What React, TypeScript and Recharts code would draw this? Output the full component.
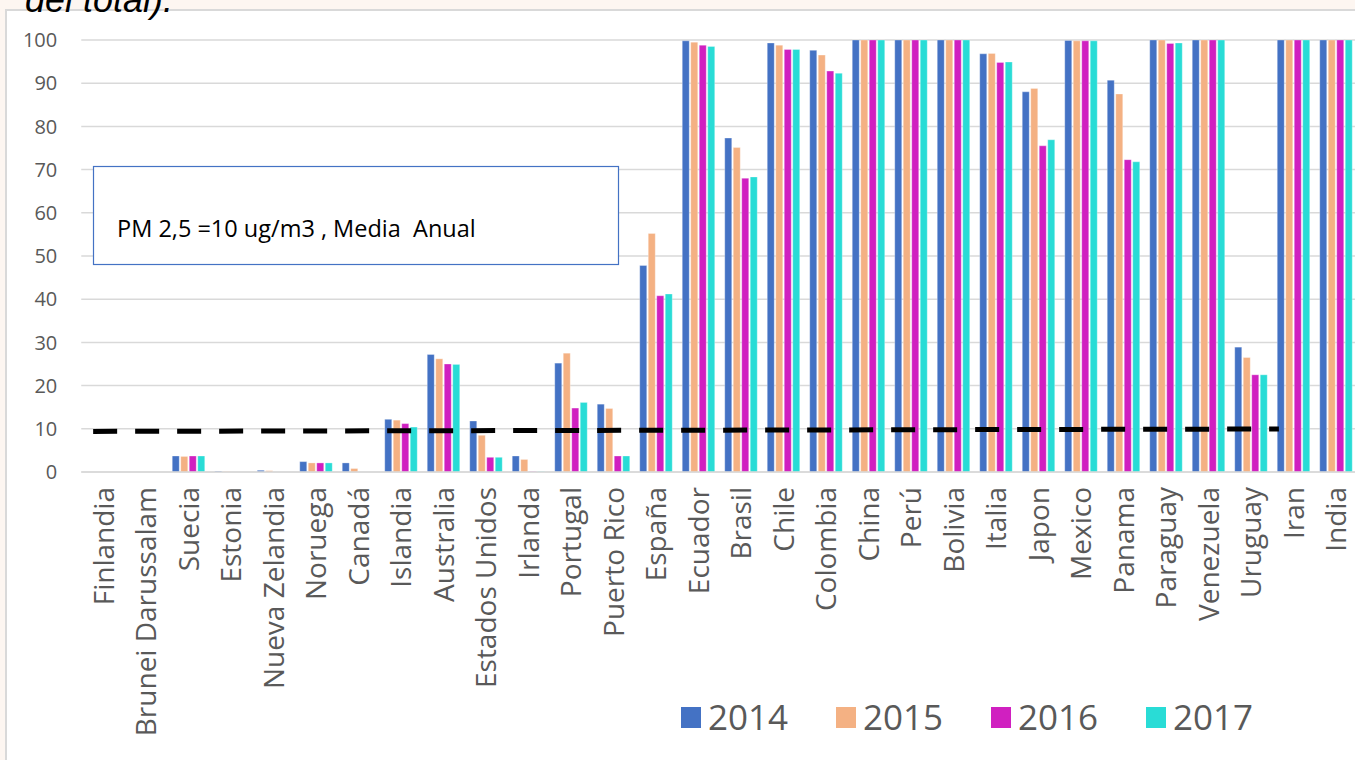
import React from 'react';
import { BarChart, Bar, XAxis, YAxis, CartesianGrid, ReferenceLine } from 'recharts';

const countries = [
  'Finlandia', 'Brunei Darussalam', 'Suecia', 'Estonia', 'Nueva Zelandia', 'Noruega', 'Canadá',
  'Islandia', 'Australia', 'Estados Unidos', 'Irlanda', 'Portugal', 'Puerto Rico', 'España',
  'Ecuador', 'Brasil', 'Chile', 'Colombia', 'China', 'Perú', 'Bolivia', 'Italia', 'Japon',
  'Mexico', 'Panama', 'Paraguay', 'Venezuela', 'Uruguay', 'Iran', 'India',
];

const v2014 = [0, 0, 3.7, 0.2, 0.4, 2.4, 2.1, 12.2, 27.2, 11.8, 3.7, 25.2, 15.7, 47.8, 99.8, 77.3, 99.3, 97.6, 100, 100, 100, 96.8, 88.0, 99.9, 90.7, 100, 100, 28.9, 100, 100];
const v2015 = [0, 0, 3.6, 0.1, 0.3, 2.1, 0.8, 12.0, 26.2, 8.5, 2.9, 27.5, 14.7, 55.2, 99.5, 75.1, 98.8, 96.5, 100, 100, 100, 96.9, 88.8, 99.8, 87.5, 100, 100, 26.5, 100, 100];
const v2016 = [0, 0, 3.7, 0, 0, 2.1, 0, 11.2, 25.0, 3.4, 0.1, 14.8, 3.7, 40.8, 98.8, 68.0, 97.8, 92.8, 100, 100, 100, 94.8, 75.5, 99.8, 72.3, 99.2, 100, 22.5, 100, 100];
const v2017 = [0, 0, 3.7, 0, 0, 2.1, 0, 10.4, 24.9, 3.4, 0.1, 16.1, 3.7, 41.2, 98.5, 68.3, 97.8, 92.3, 100, 100, 100, 94.9, 76.9, 99.8, 71.8, 99.3, 100, 22.5, 100, 100];

const years = ['2014', '2015', '2016', '2017'];
const seriesKeys = ['y2014', 'y2015', 'y2016', 'y2017'];
const colors = ['#4472C4', '#F4B183', '#D020C0', '#29DCD6'];

const yTicks = [0, 10, 20, 30, 40, 50, 60, 70, 80, 90, 100];

// limit line (PM2.5 = 10): category-index position and value at each end
const limitPos = [0.28, 28.18];
const limitVal = [9.4, 9.95];

const titleText = 'del total).';
const boxText = 'PM 2,5 =10 ug/m3 , Media  Anual';

const data = countries.map((c, i) => ({
  country: c,
  pos: i + 0.5,
  y2014: v2014[i],
  y2015: v2015[i],
  y2016: v2016[i],
  y2017: v2017[i],
}));

const FONT = '"Open Sans", "Noto Sans", sans-serif';

const XTick = (props: any) => {
  const { x, y, payload } = props;
  return (
    <text
      x={x}
      y={y}
      transform={`rotate(-90, ${x}, ${y})`}
      textAnchor="end"
      dominantBaseline="central"
      fill="#595959"
      fontSize={28}
      fontFamily={FONT}
    >
      {payload.value}
    </text>
  );
};

export default function App() {
  return (
    <div
      style={{
        position: 'fixed',
        left: 0,
        top: 0,
        width: 1355,
        height: 760,
        overflow: 'hidden',
        background: '#fdf6f1',
        fontFamily: FONT,
      }}
    >
      <div
        style={{
          position: 'absolute',
          left: 5,
          top: 9,
          width: 1400,
          height: 800,
          background: '#ffffff',
          borderLeft: '2px solid #d9d9d9',
          borderTop: '2px solid #d9d9d9',
        }}
      />
      <div style={{ position: 'absolute', left: 0, top: 0 }}>
        <BarChart
          width={1360}
          height={760}
          data={data}
          margin={{ top: 40, right: 3.75, bottom: 28, left: 0 }}
          barCategoryGap={6}
          barGap={1.5}
        >
          <CartesianGrid vertical={false} stroke="#d9d9d9" strokeWidth={1.5} />
          <XAxis
            dataKey="country"
            interval={0}
            height={260}
            tick={<XTick />}
            tickLine={false}
            tickMargin={9}
            axisLine={{ stroke: '#d9d9d9', strokeWidth: 1.5 }}
          />
          <XAxis xAxisId="lim" dataKey="pos" type="number" domain={[0, 30]} allowDataOverflow hide />
          <YAxis
            width={81.25}
            domain={[0, 100]}
            ticks={yTicks}
            interval={0}
            axisLine={false}
            tickLine={false}
            tickSize={0}
            tickMargin={24}
            tick={{ fill: '#595959', fontSize: 20, fontFamily: FONT }}
          />
          {seriesKeys.map((k, i) => (
            <Bar
              key={k}
              dataKey={k}
              name={years[i]}
              fill={colors[i]}
              stroke="#ffffff"
              strokeOpacity={0.5}
              strokeWidth={0.6}
              isAnimationActive={false}
            />
          ))}
          <ReferenceLine
            xAxisId="lim"
            segment={[
              { x: limitPos[0], y: limitVal[0] },
              { x: limitPos[1], y: limitVal[1] },
            ]}
            stroke="#000000"
            strokeWidth={5}
            strokeDasharray="24 18"
            ifOverflow="visible"
          />
        </BarChart>
      </div>
      <svg
        width={1355}
        height={760}
        style={{ position: 'absolute', left: 0, top: 0, pointerEvents: 'none' }}
      >
        <text x={25} y={12} fontSize={36} fontStyle="italic" fontFamily='"Liberation Sans", Arial, sans-serif' fill="#000">
          {titleText}
        </text>
        <rect x={93.5} y={166.5} width={525} height={98} fill="#ffffff" stroke="#4472C4" strokeWidth={1.2} />
        <text x={117} y={237} fontSize={23.5} fontFamily={FONT} fill="#000" style={{ whiteSpace: 'pre' }}>
          {boxText}
        </text>
        {years.map((yr, i) => (
          <g key={yr}>
            <rect x={681 + 155 * i} y={707} width={20} height={21} fill={colors[i]} />
            <text x={708 + 155 * i} y={730} fontSize={35} fontFamily={FONT} fill="#595959">
              {yr}
            </text>
          </g>
        ))}
      </svg>
    </div>
  );
}
